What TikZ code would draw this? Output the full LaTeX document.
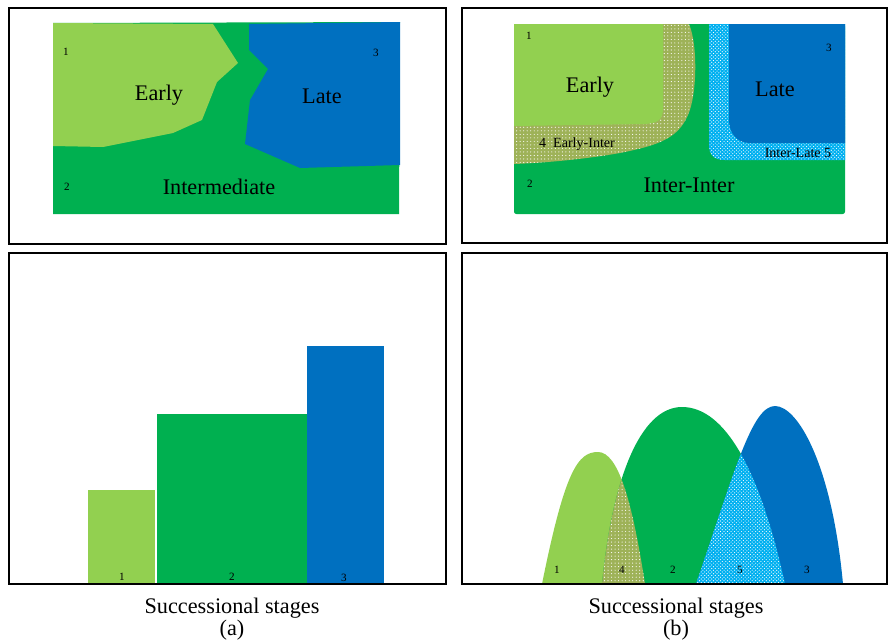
\documentclass[tikz,border=0pt]{standalone}
\usepackage{fontspec}
\setmainfont{Liberation Serif}
\usetikzlibrary{patterns}

\definecolor{earlygreen}{RGB}{146,208,80}
\definecolor{intergreen}{RGB}{0,176,80}
\definecolor{lateblue}{RGB}{0,112,192}
\definecolor{mixolive}{RGB}{158,178,88}
\definecolor{mixcyan}{RGB}{0,176,240}

\newcommand{\hillone}{(542,584) .. controls (565,470) and (578,452) .. (598,452) .. controls (618,452) and (632,500) .. (645,584) -- cycle}
\newcommand{\hilltwo}{(602,584) .. controls (612,480) and (640,407) .. (682,407) .. controls (725,407) and (760,470) .. (785,584) -- cycle}
\newcommand{\hillthree}{(696,584) .. controls (735,470) and (752,406) .. (775,406) .. controls (798,406) and (832,465) .. (843,584) -- cycle}

\begin{document}
\begin{tikzpicture}[
            x=0.03cm, y=-0.03cm,
            panel/.style={draw=black, line width=2.4pt},
            bigtext/.style={font=\fontsize{19}{22}\selectfont, inner sep=0pt},
            midtext/.style={font=\fontsize{12}{14}\selectfont, inner sep=0pt},
            digit/.style={font=\fontsize{9.5}{11}\selectfont, inner sep=0pt},
            captext/.style={font=\fontsize{19}{12.5}\selectfont, align=center, inner sep=0pt, anchor=north},
            olivedots/.style={fill=mixolive, postaction={pattern=dots, pattern color=white}},
            cyandots/.style={fill=mixcyan, postaction={pattern=crosshatch dots, pattern color=white}}
        ]
            \useasboundingbox (0,0) rectangle (889,644);

            % (a) top: map with three zones
            \fill[intergreen] (53,23) -- (400,22) -- (399,214) -- (53,214) -- cycle;
            \fill[earlygreen] (53,23) -- (213,24) -- (238,63) -- (217,82) -- (202,120) -- (173,133) -- (103,147) -- (53,146) -- cycle;
            \fill[lateblue] (249,24) -- (400,22) -- (400,165) -- (300,168) -- (245,144) -- (250,100) -- (253,95) -- (268,69) -- (249,50) -- cycle;

            \node[digit] (a1) at (66,52) {1};
            \node[digit] (a3) at (376,53) {3};
            \node[digit] (a2) at (67,187) {2};
            \node[bigtext] (aearly) at (159,95) {Early};
            \node[bigtext] (alate) at (322,96) {Late};
            \node[bigtext] (ainter) at (219,187) {Intermediate};

            % (b) top: map with transition zones
            \fill[intergreen, rounded corners=2pt] (514,24) rectangle (845,214);
            \fill[olivedots] (514,24) -- (689,24) .. controls (698,45) and (697,95) .. (688,115) .. controls (678,138) and (660,145) .. (620,153) .. controls (580,160) and (540,163) .. (514,164) -- cycle;
            \fill[earlygreen] (514,24) -- (663,24) -- (663,108) .. controls (663,120) and (658,123) .. (645,124) -- (514,126) -- cycle;
            \fill[cyandots] (709,24) -- (845,24) -- (845,160) -- (725,160) .. controls (714,160) and (709,155) .. (709,145) -- cycle;
            \fill[lateblue] (729,24) -- (845,24) -- (845,143) -- (750,143) .. controls (737,143) and (729,133) .. (729,120) -- cycle;

            \node[digit] (b1) at (529,36) {1};
            \node[digit] (b3) at (829,48) {3};
            \node[digit] (b2) at (530,184) {2};
            \node[bigtext] (bearly) at (590,87) {Early};
            \node[bigtext] (blate) at (775,89) {Late};
            \node[bigtext] (binter) at (689,185) {Inter-Inter};
            \node[midtext] (bei) at (577,144) {4\enspace Early-Inter};
            \node[midtext] (bil) at (798,153) {Inter-Late 5};

            % (a) bottom: bars
            \fill[earlygreen] (88,490) rectangle (155,584);
            \fill[intergreen] (157,414) rectangle (307,584);
            \fill[lateblue] (307,346) rectangle (384,584);

            \node[digit] (c1) at (122,577) {1};
            \node[digit] (c2) at (232,577) {2};
            \node[digit] (c3) at (344,578) {3};

            % (b) bottom: overlapping curves
            \fill[earlygreen] \hillone;
            \fill[intergreen] \hilltwo;
            \fill[lateblue] \hillthree;
            \begin{scope}
                \clip \hillone;
                \fill[olivedots] \hilltwo;
            \end{scope}
            \begin{scope}
                \clip \hilltwo;
                \fill[cyandots] \hillthree;
            \end{scope}

            \node[digit] (d1) at (557,570) {1};
            \node[digit] (d4) at (622,570) {4};
            \node[digit] (d2) at (673,570) {2};
            \node[digit] (d5) at (740,570) {5};
            \node[digit] (d3) at (807,570) {3};

            \draw[panel] (9,8) rectangle (446,244);
            \draw[panel] (462,8) rectangle (887,243);
            \draw[panel] (9,253) rectangle (446,584);
            \draw[panel] (462,253) rectangle (887,584);

            \node[captext] (acap) at (232,598) {Successional stages\\(a)};
            \node[captext] (bcap) at (676,598) {Successional stages\\(b)};
        \end{tikzpicture}
\end{document}
